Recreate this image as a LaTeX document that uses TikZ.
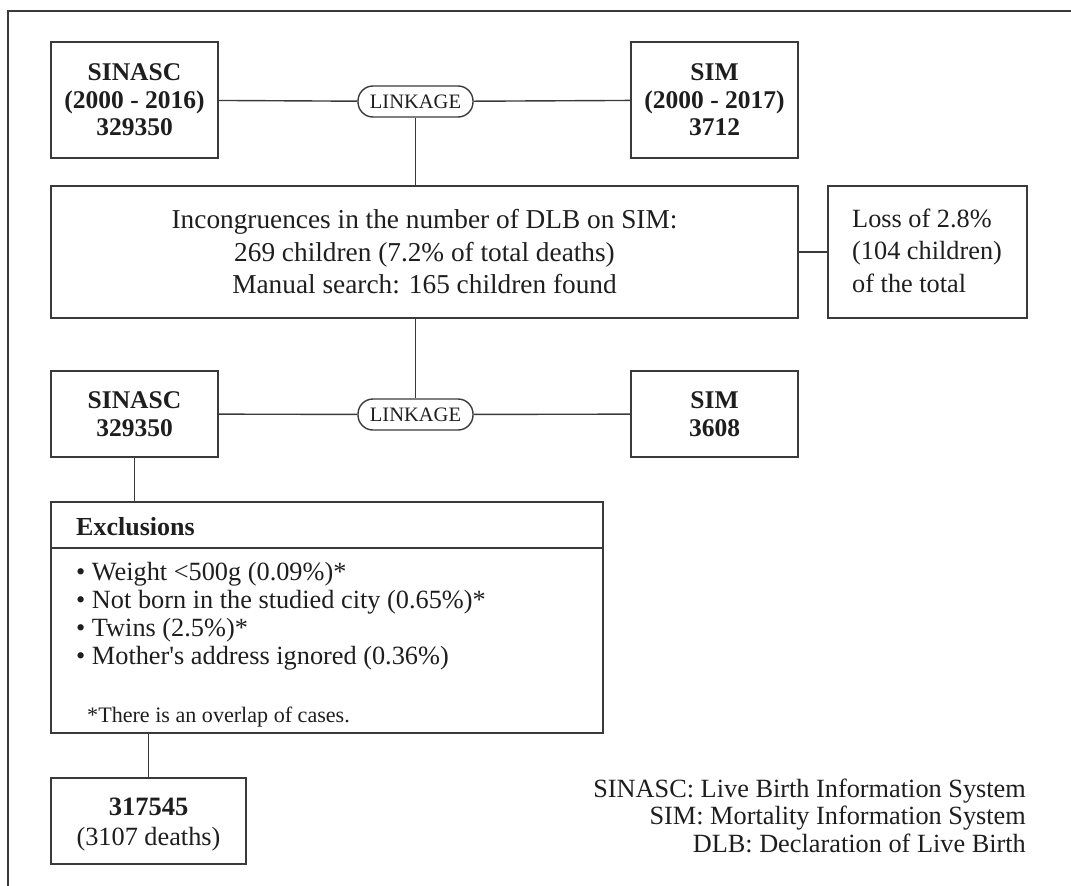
\documentclass[tikz,border=0pt]{standalone}
\usepackage{fontspec}
\setmainfont{Liberation Serif}
\definecolor{ln}{HTML}{3A3A3A}
\definecolor{tx}{HTML}{1E1E1E}
\begin{document}
\begin{tikzpicture}[x=1pt,y=-1pt,
  every node/.style={text=tx},
  box/.style={draw=ln,line width=1.4pt,inner sep=0pt,align=center},
  link/.style={draw=ln,line width=1.4pt,inner sep=0pt,rounded corners=15pt,minimum width=115pt,minimum height=31pt,font=\fontsize{20.5}{22}\selectfont},
  conn/.style={draw=ln,line width=1.4pt},
  big/.style={font=\fontsize{25.5}{27.5}\selectfont\bfseries},
  reg/.style={font=\fontsize{27.3}{32.5}\selectfont},
  txt/.style={inner sep=0pt,font=\fontsize{26.3}{27}\selectfont}]
\useasboundingbox (0,0) rectangle (1071,886);
% frame (top and left visible)
\draw[ln,line width=1.4pt] (1071,11) -- (8,11) -- (8,886);
% top row
\node[box,big,minimum width=167pt,minimum height=116pt] (s1) at (134.5,100) {SINASC\\(2000 - 2016)\\329350};
\node[box,big,minimum width=167pt,minimum height=116pt] (m1) at (714.5,100) {SIM\\(2000 - 2017)\\3712};
\node[link] (l1) at (415.5,101.5) {LINKAGE};
% middle
\node[box,reg,minimum width=747pt,minimum height=132pt] (bg) at (424.5,252) {Incongruences in the number of DLB on SIM:\\269 children (7.2\% of total deaths)\\Manual search: 165 children found};
\node[box,minimum width=199pt,minimum height=132pt] (loss) at (927.5,252) {};
\node[txt,anchor=base west] (lo1) at (852,227) {Loss of 2.8\%};
\node[txt,anchor=base west] (lo2) at (852,259.5) {(104 children)};
\node[txt,anchor=base west] (lo3) at (852,292) {of the total};
% second row
\node[box,big,minimum width=167pt,minimum height=86pt] (s2) at (134.5,414) {SINASC\\329350};
\node[box,big,minimum width=167pt,minimum height=86pt] (m2) at (714.5,414) {SIM\\3608};
\node[link] (l2) at (415.5,414.5) {LINKAGE};
% exclusions
\node[box,minimum width=552pt,minimum height=231pt] (ex) at (327,617.5) {};
\coordinate (dv) at (51,548);
\draw[conn] (dv) -- (dv -| ex.east);
\node[txt,anchor=base west,font=\fontsize{26}{27}\selectfont\bfseries] (exh) at (76,535) {Exclusions};
\node[txt,anchor=base west] (e1) at (76,580) {\textbullet\ Weight <500g (0.09\%)*};
\node[txt,anchor=base west] (e2) at (76,608) {\textbullet\ Not born in the studied city (0.65\%)*};
\node[txt,anchor=base west] (e3) at (76,636) {\textbullet\ Twins (2.5\%)*};
\node[txt,anchor=base west] (e4) at (76,664) {\textbullet\ Mother\textquotesingle s address ignored (0.36\%)};
\node[txt,anchor=base west,font=\fontsize{22.1}{24}\selectfont] (fn) at (87,722) {*There is an overlap of cases.};
% final
\node[box,minimum width=195pt,minimum height=86pt] (fin) at (148.5,821) {};
\node[txt,anchor=base,font=\fontsize{26.5}{27}\selectfont\bfseries] (f1) at (148.5,815) {317545};
\node[txt,anchor=base] (f2) at (148.5,845) {(3107 deaths)};
% legend
\node[txt,anchor=base east] (g1) at (1026,797) {SINASC: Live Birth Information System};
\node[txt,anchor=base east] (g2) at (1026,824) {SIM: Mortality Information System};
\node[txt,anchor=base east] (g3) at (1026,852) {DLB: Declaration of Live Birth};
% connectors
\draw[conn] (s1) -- (l1);
\draw[conn] (l1) -- (m1);
\draw[conn] (l1.south) -- (l1.south |- bg.north);
\draw[conn] (bg) -- (loss);
\draw[conn] (l2.north |- bg.south) -- (l2.north);
\draw[conn] (s2) -- (l2);
\draw[conn] (l2) -- (m2);
\draw[conn] (s2) -- (s2 |- ex.north);
\draw[conn] (fin.north) -- (fin.north |- ex.south);
\end{tikzpicture}
\end{document}
